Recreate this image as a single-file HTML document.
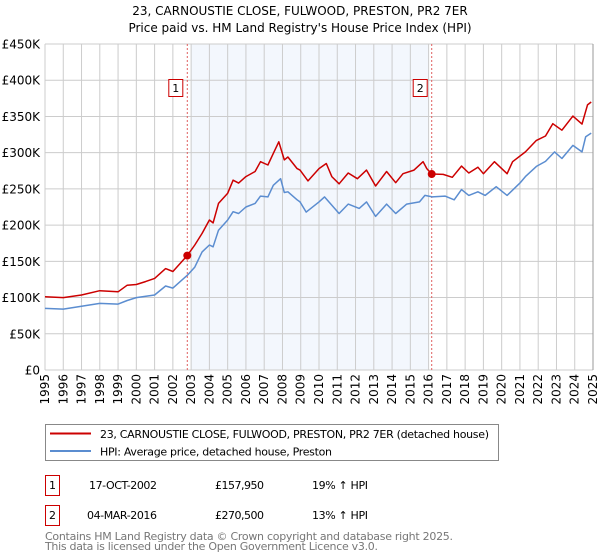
<!DOCTYPE html>
<html><head><meta charset="utf-8"><style>
html,body{margin:0;padding:0;background:#fff;}
svg{display:block;font-family:"DejaVu Sans","Liberation Sans",sans-serif;}
</style></head><body>
<svg id="chart" width="600" height="560" viewBox="0 0 600 560">
<text x="300" y="15" text-anchor="middle" font-size="12" fill="#000">23, CARNOUSTIE CLOSE, FULWOOD, PRESTON, PR2 7ER</text>
<text x="300" y="32" text-anchor="middle" font-size="12" fill="#000">Price paid vs. HM Land Registry's House Price Index (HPI)</text>
<g id="plot"></g>
<g>
<rect x="45.5" y="424.5" width="453" height="36" fill="#fff" stroke="#888"/>
<line x1="50" y1="433.5" x2="91" y2="433.5" stroke="#cc0000" stroke-width="2"/>
<text x="100" y="438" font-size="11" textLength="389">23, CARNOUSTIE CLOSE, FULWOOD, PRESTON, PR2 7ER (detached house)</text>
<line x1="50" y1="451" x2="91" y2="451" stroke="#5b8dd0" stroke-width="2"/>
<text x="100" y="455.5" font-size="11" textLength="232">HPI: Average price, detached house, Preston</text>
</g>
<g font-size="11">
<rect x="45.5" y="475.5" width="14" height="20" fill="#fff" stroke="#cc0000"/>
<text x="52.5" y="489" text-anchor="middle">1</text>
<text x="89" y="489" textLength="68">17-OCT-2002</text>
<text x="215" y="489" textLength="49">£157,950</text>
<text x="312" y="489" textLength="56">19% ↑ HPI</text>
<rect x="45.5" y="505.5" width="14" height="20" fill="#fff" stroke="#cc0000"/>
<text x="52.5" y="519" text-anchor="middle">2</text>
<text x="87" y="519" textLength="70">04-MAR-2016</text>
<text x="215" y="519" textLength="49">£270,500</text>
<text x="312" y="519" textLength="56">13% ↑ HPI</text>
</g>
<text x="45" y="540" font-size="11" fill="#777" textLength="408">Contains HM Land Registry data © Crown copyright and database right 2025.</text>
<text x="45" y="550" font-size="11" fill="#777" textLength="333">This data is licensed under the Open Government Licence v3.0.</text>
</svg>
<script>
const yTicks = [0,50,100,150,200,250,300,350,400,450];
const yTickLabels = ["£0","£50K","£100K","£150K","£200K","£250K","£300K","£350K","£400K","£450K"];
const xYears = [1995,1996,1997,1998,1999,2000,2001,2002,2003,2004,2005,2006,2007,2008,2009,2010,2011,2012,2013,2014,2015,2016,2017,2018,2019,2020,2021,2022,2023,2024,2025];
const hpiYears = [1995,1996,1997,1998,1999,1999.5,2000,2001,2001.6,2002,2002.8,2003.2,2003.6,2004,2004.2,2004.5,2005,2005.3,2005.6,2006,2006.5,2006.8,2007.2,2007.5,2007.9,2008.1,2008.3,2008.8,2008.96,2009.3,2010.0,2010.3,2011.1,2011.6,2012.2,2012.6,2013.1,2013.7,2014.2,2014.8,2015.5,2015.8,2016.2,2016.9,2017.4,2017.8,2018.2,2018.7,2019.1,2019.7,2020.3,2021.0,2021.3,2021.9,2022.4,2022.9,2023.3,2023.9,2024.4,2024.6,2024.9];
const hpiValues = [85,84,88,92,91,96,100,103.5,116,113,131,142,163,172.5,170,193,207,218.5,216,225,230,240,239,255,264,245,246,235,232,218,232,239,216,229,223,232,212,229,216,229,232,241,239,240,235,249,241,246,241,253,241,258,267,281,288,301,292,310,301,322,327];
const priceYears = [1995,1996,1997,1998,1999,1999.5,2000,2000.5,2001,2001.6,2002,2002.79,2003.2,2003.6,2004,2004.2,2004.5,2005,2005.3,2005.6,2006,2006.5,2006.8,2007.2,2007.5,2007.8,2008.1,2008.3,2008.8,2008.96,2009.4,2010.0,2010.4,2010.7,2011.1,2011.6,2012.1,2012.6,2013.1,2013.7,2014.2,2014.6,2015.2,2015.7,2015.9,2016.17,2016.8,2017.3,2017.8,2018.2,2018.7,2019.0,2019.6,2020.3,2020.6,2021.3,2021.9,2022.4,2022.8,2023.3,2023.9,2024.4,2024.7,2024.9];
const priceValues = [101,100,103.5,109.5,108,117,118,122,126.5,140,136,158,172.5,188.6,207,203,230,244,262,258,267,274,287.5,283,299,315,290,294,278,276,261,278,285,267,257,272,264,276,254,274,258.5,271,276,287.5,278,270.5,270,266,281.5,272,280,271,287.5,271,287.5,301,317,323,340,331,350.5,339.5,366,370];
const saleYears = [2002.79, 2016.17];
const saleValues = [157.95, 270.5];
const saleLabels = ["1","2"];

const X0=45, X1=593, Y0=370, Y1=44;
const xScale = y => X0 + (y-1995)/(2025-1995)*(X1-X0);
const yScale = v => Y0 - v/450*(Y0-Y1);
const NS="http://www.w3.org/2000/svg";
const plot=document.getElementById('plot');
function mk(tag, attrs, parent){const e=document.createElementNS(NS,tag);for(const k in attrs)e.setAttribute(k,attrs[k]);(parent||plot).appendChild(e);return e;}

const shade=mk('rect',{x:xScale(2003),y:Y1,width:xScale(2016)-xScale(2003),height:Y0-Y1,fill:'#eef3fc',opacity:0.7});



xYears.forEach(yr=>{
  const l=mk('line',{x1:xScale(yr),x2:xScale(yr),y1:Y1,y2:Y0,stroke:'#cccccc','stroke-width':1});
  
  
  const t=mk('text',{x:0,y:0,'font-size':12,'text-anchor':'end',transform:`translate(${xScale(yr)+4},${Y0+4}) rotate(-90)`});
  t.textContent=yr;
  
  
});
yTicks.forEach((v,i)=>{
  const l=mk('line',{x1:X0,x2:X1,y1:yScale(v),y2:yScale(v),stroke:'#cccccc','stroke-width':1});
  
  
  const t=mk('text',{x:40,y:yScale(v)+4.5,'font-size':12,'text-anchor':'end'});
  t.textContent=yTickLabels[i];
  
  
});
const rb=mk('line',{x1:X1,x2:X1,y1:Y1,y2:Y0,stroke:'#999','stroke-width':1});



saleYears.forEach((yr,i)=>{
  const l=mk('line',{x1:xScale(yr),x2:xScale(yr),y1:Y1,y2:Y0,stroke:'#e06060','stroke-width':1,'stroke-dasharray':'2,2'});
  
  
});

function path(xs,vs){return xs.map((x,i)=>(i?'L':'M')+xScale(x).toFixed(1)+','+yScale(vs[i]).toFixed(1)).join('');}
const hp=mk('path',{d:path(hpiYears,hpiValues),fill:'none',stroke:'#5b8dd0','stroke-width':1.5,'stroke-linejoin':'round'});


const pp=mk('path',{d:path(priceYears,priceValues),fill:'none',stroke:'#cc0000','stroke-width':1.5,'stroke-linejoin':'round'});



saleYears.forEach((yr,i)=>{
  const c=mk('circle',{cx:xScale(yr),cy:yScale(saleValues[i]),r:4,fill:'#cc0000'});
  
  
  const bx=xScale(yr)-11;
  const r=mk('rect',{x:bx-7.5,y:79.5,width:14,height:17,fill:'#fff',stroke:'#cc0000'});
  
  
  const t=mk('text',{x:bx-0.5,y:92,'font-size':11,'text-anchor':'middle'});
  t.textContent=saleLabels[i];
  
  
});
</script>
</body></html>
